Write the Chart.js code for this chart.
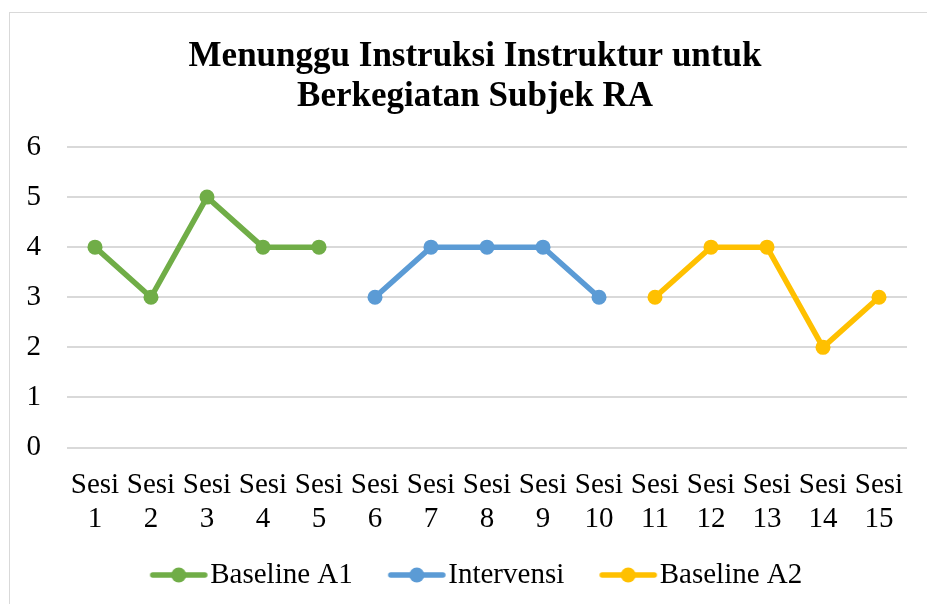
<!DOCTYPE html>
<html>
<head>
<meta charset="utf-8">
<script src="https://cdn.jsdelivr.net/npm/chart.js@4.4.0/dist/chart.umd.min.js"></script>
<style>
    body { margin: 0; background: #fff; overflow: hidden; }
    #box { position: absolute; left: 9px; top: 12px; width: 940px; height: 620px; border: 1px solid #d9d9d9; }
    #wrap { width: 930px; height: 610px; }
</style>
</head>
<body>
<div id="box"><div id="wrap"><canvas id="chart"></canvas></div></div>
<script>
// данные графика
const sessions = ['1', '2', '3', '4', '5', '6', '7', '8', '9', '10', '11', '12', '13', '14', '15']
const baselineA1 = [4, 3, 5, 4, 4, null, null, null, null, null, null, null, null, null, null]
const intervensi = [null, null, null, null, null, 3, 4, 4, 4, 3, null, null, null, null, null]
const baselineA2 = [null, null, null, null, null, null, null, null, null, null, 3, 4, 4, 2, 3]
const yTicks = [0, 1, 2, 3, 4, 5, 6]

const serif = "'Liberation Serif', 'Times New Roman', serif"

// значок для легенды: линия с точкой (картинка шире бокса, чтобы текст шёл почти вплотную)
function legendIcon(color) {
    const c = document.createElement('canvas')
    c.width = 120
    c.height = 18
    const ctx = c.getContext('2d')
    ctx.strokeStyle = color
    ctx.lineWidth = 5.5
    ctx.lineCap = 'round'
    ctx.beginPath()
    ctx.moveTo(41, 9)
    ctx.lineTo(93, 9)
    ctx.stroke()
    ctx.fillStyle = color
    ctx.beginPath()
    ctx.arc(67, 9, 7.5, 0, Math.PI * 2)
    ctx.fill()
    return c
}

function series(label, data, color) {
    return {
        label: label,
        data: data,
        borderColor: color,
        backgroundColor: color,
        borderWidth: 5.5,
        pointRadius: 7.5,
        pointHoverRadius: 7.5,
        pointBorderWidth: 0,
        pointStyle: 'circle',
        spanGaps: false,
        legendIcon: legendIcon(color),
        yAxisID: 'y'
    }
}

new Chart(document.getElementById('chart'), {
    type: 'line',
    data: {
        labels: sessions.map(s => ['Sesi', s]),
        datasets: [
            series('Baseline A1', baselineA1, '#70AD47'),
            series('Intervensi', intervensi, '#5B9BD5'),
            series('Baseline A2', baselineA2, '#FFC000')
        ]
    },
    options: {
        responsive: true,
        maintainAspectRatio: false,
        animation: false,
        layout: { padding: { left: 0, right: 0, top: 24, bottom: 23.5 } },
        plugins: {
            title: {
                display: true,
                text: ['Menunggu Instruksi Instruktur untuk', 'Berkegiatan Subjek RA'],
                color: '#000',
                font: { family: serif, size: 35, weight: 'bold', lineHeight: 1.15 },
                padding: { top: 0, bottom: 29.5 }
            },
            legend: {
                position: 'bottom',
                labels: {
                    color: '#000',
                    font: { family: serif, size: 29 },
                    usePointStyle: true,
                    pointStyleWidth: 48,
                    boxHeight: 16,
                    padding: 33,
                    generateLabels: function (chart) {
                        return chart.data.datasets.map((ds, i) => ({
                            text: ds.label,
                            pointStyle: ds.legendIcon,
                            fillStyle: ds.borderColor,
                            strokeStyle: ds.borderColor,
                            lineWidth: 0,
                            fontColor: '#000',
                            datasetIndex: i,
                            hidden: false
                        }))
                    }
                }
            },
            tooltip: { enabled: false }
        },
        scales: {
            x: {
                offset: true,
                grid: { display: false, drawTicks: false },
                border: { display: false },
                ticks: {
                    color: '#000',
                    font: { family: serif, size: 29, lineHeight: 1.2 },
                    maxRotation: 0,
                    autoSkip: false,
                    padding: 20
                },
                afterFit: function (scale) { scale.height = 80 }
            },
            y: {
                min: 0,
                max: 6,
                afterBuildTicks: function (scale) { scale.ticks = yTicks.map(v => ({ value: v })) },
                grid: { color: '#d9d9d9', lineWidth: 2, drawTicks: false },
                border: { display: false },
                ticks: {
                    color: '#000',
                    font: { family: serif, size: 29, lineHeight: 1.05 },
                    padding: 26
                },
                afterFit: function (scale) { scale.width = 57 }
            },
            // пустая ось справа - отступ для области графика
            y2: {
                position: 'right',
                display: true,
                grid: { display: false, drawTicks: false },
                border: { display: false },
                ticks: { display: false },
                afterFit: function (scale) { scale.width = 33 }
            }
        }
    }
})
</script>
</body>
</html>
